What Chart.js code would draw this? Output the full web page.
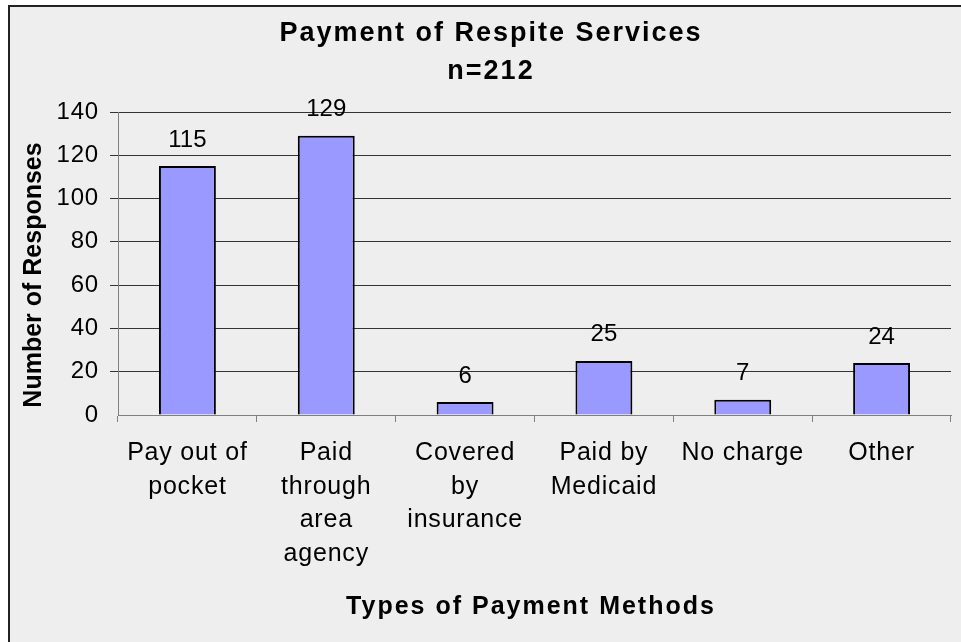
<!DOCTYPE html>
<html lang="en">
<head>
    <meta charset="UTF-8">
    <title>Payment of Respite Services</title>
    <style>
        * {
            margin: 0;
            padding: 0;
            box-sizing: border-box;
        }

        body {
            background: #ffffff;
            width: 961px;
            height: 642px;
            overflow: hidden;
        }

        .frame {
            position: absolute;
            left: 8px;
            top: 5px;
            right: 0;
            bottom: 0;
            background: #eeeeee;
            border-left: 2px solid #222;
            border-top: 2px solid #222;
        }

        #chart {
            position: absolute;
            left: 0;
            top: 0;
        }
    </style>
    <script src="https://cdn.jsdelivr.net/npm/chart.js"></script>
</head>
<body>
    <div class="frame"></div>
    <canvas id="chart" width="961" height="642"></canvas>

    <script>
        // Data
        const categories = [
            ['Pay out of', 'pocket'],
            ['Paid', 'through', 'area', 'agency'],
            ['Covered', 'by', 'insurance'],
            ['Paid by', 'Medicaid'],
            'No charge',
            'Other'
        ];
        const responses = [115, 129, 6, 25, 7, 24];
        const titleLines = ['Payment of Respite Services', 'n=212'];
        const xTitle = 'Types of Payment Methods';
        const yTitle = 'Number of Responses';

        const FONT = "'Liberation Sans', Arial, sans-serif";

        // global letter spacing for tick text (Excel spreads letters a bit)
        const spacingPlugin = {
            id: 'spacing',
            beforeDraw(chart) {
                chart.ctx.letterSpacing = '0.8px';
            }
        };

        // titles + value labels drawn by hand so letter spacing can differ
        const textPlugin = {
            id: 'texts',
            afterDraw(chart) {
                const ctx = chart.ctx;
                ctx.save();
                ctx.fillStyle = '#000';

                // value labels
                ctx.letterSpacing = '0px';
                ctx.font = '24px ' + FONT;
                ctx.textAlign = 'center';
                ctx.textBaseline = 'alphabetic';
                const meta = chart.getDatasetMeta(0);
                meta.data.forEach((bar, i) => {
                    ctx.fillText(String(responses[i]), bar.x, bar.y - 19.5);
                });

                // chart title
                ctx.font = 'bold 27px ' + FONT;
                ctx.letterSpacing = '2px';
                ctx.fillText(titleLines[0], 491, 40.5);
                ctx.fillText(titleLines[1], 491, 78.5);

                // x axis title
                ctx.font = 'bold 25px ' + FONT;
                ctx.letterSpacing = '2px';
                ctx.fillText(xTitle, 531, 613.5);

                // y axis title
                ctx.letterSpacing = '0px';
                ctx.translate(40.5, 275);
                ctx.rotate(-Math.PI / 2);
                ctx.fillText(yTitle, 0, 0);

                ctx.restore();
            }
        };

        new Chart(document.getElementById('chart'), {
            type: 'bar',
            data: {
                labels: categories,
                datasets: [{
                    data: responses,
                    backgroundColor: '#9999ff',
                    borderColor: '#000000',
                    borderWidth: 2,
                    barPercentage: 0.41,
                    categoryPercentage: 1
                }]
            },
            options: {
                responsive: false,
                animation: false,
                layout: {
                    padding: { top: 112, right: 10, left: 0, bottom: 0 }
                },
                plugins: {
                    legend: { display: false },
                    title: { display: false },
                    tooltip: { enabled: false }
                },
                scales: {
                    x: {
                        afterFit: (s) => { s.height = 227; },
                        grid: {
                            offset: true,
                            drawOnChartArea: false,
                            drawTicks: true,
                            tickLength: 7,
                            color: '#808080'
                        },
                        border: { color: '#808080', width: 1 },
                        ticks: {
                            color: '#000',
                            padding: 14,
                            maxRotation: 0,
                            autoSkip: false,
                            font: { family: FONT, size: 25, lineHeight: 1.35 }
                        }
                    },
                    y: {
                        min: 0,
                        max: 140,
                        afterFit: (s) => { s.width = 118; },
                        grid: {
                            color: (c) => c.tick && c.tick.value === 0 ? 'rgba(0,0,0,0)' : '#333333',
                            tickLength: 8
                        },
                        border: { color: '#808080', width: 1 },
                        ticks: {
                            stepSize: 20,
                            color: '#000',
                            padding: 11,
                            font: { family: FONT, size: 24 }
                        }
                    }
                }
            },
            plugins: [spacingPlugin, textPlugin]
        });
    </script>
</body>
</html>
